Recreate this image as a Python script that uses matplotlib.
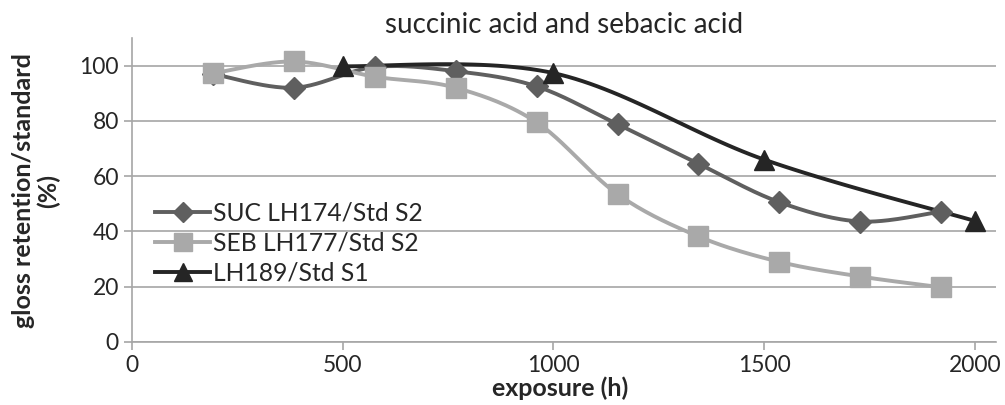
import numpy as np
import matplotlib
matplotlib.use('Agg')
import matplotlib.pyplot as plt

plt.rcParams['font.family'] = ['Lato', 'DejaVu Sans']

# data
hours = [192, 384, 576, 768, 960, 1152, 1344, 1536, 1728, 1920]
suc = [97, 92, 99.5, 98, 92.5, 78.8, 64.5, 50.6, 43.6, 47.2]
seb = [97.2, 101.5, 96, 92, 79.5, 53.5, 38.2, 29, 23.7, 19.8]
hours_lh = [500, 1000, 1500, 2000]
lh189 = [99.8, 97.3, 66, 43.8]

labels = ['SUC LH174/Std S2', 'SEB LH177/Std S2', 'LH189/Std S1']
colors = ['#5f5f5f', '#a9a9a9', '#252525']
markers = ['D', 's', '^']
msizes = [11, 14, 14]


def smooth(x, y, n=30):
    # Excel-style smoothed line (bezier through the points)
    x = np.asarray(x, float)
    y = np.asarray(y, float)
    px = np.concatenate([[x[0]], x, [x[-1]]])
    py = np.concatenate([[y[0]], y, [y[-1]]])
    t = np.linspace(0, 1, n)
    xs, ys = [], []
    for i in range(1, len(px) - 2):
        p0 = np.array([px[i], py[i]])
        p3 = np.array([px[i + 1], py[i + 1]])
        p1 = p0 + (np.array([px[i + 1], py[i + 1]]) - np.array([px[i - 1], py[i - 1]])) / 6
        p2 = p3 - (np.array([px[i + 2], py[i + 2]]) - np.array([px[i], py[i]])) / 6
        b = ((1 - t) ** 3)[:, None] * p0 + (3 * (1 - t) ** 2 * t)[:, None] * p1 \
            + (3 * (1 - t) * t ** 2)[:, None] * p2 + (t ** 3)[:, None] * p3
        xs.append(b[:, 0])
        ys.append(b[:, 1])
    return np.concatenate(xs), np.concatenate(ys)


fig = plt.figure(figsize=(10.05, 4.05), dpi=100)
ax = fig.add_axes([132 / 1005, (405 - 342) / 405, (996 - 132) / 1005, (342 - 38) / 405])

series = [(hours, suc), (hours, seb), (hours_lh, lh189)]
handles = []
for (xv, yv), lab, c, m, ms in zip(series, labels, colors, markers, msizes):
    sx, sy = smooth(xv, yv)
    ax.plot(sx, sy, color=c, lw=2.8, zorder=3)
    ax.plot(xv, yv, ls='none', marker=m, ms=ms, color=c, zorder=4)
    h, = ax.plot([], [], color=c, lw=2.8, marker=m, ms=ms - 1, label=lab)
    handles.append(h)

ax.set_xlim(0, 2050)
ax.set_ylim(0, 110)
ax.set_xticks([0, 500, 1000, 1500, 2000])
ax.set_yticks([0, 20, 40, 60, 80, 100])
ax.grid(axis='y', color='#a6a6a6', lw=1.2)
ax.set_axisbelow(True)
for s in ['top', 'right']:
    ax.spines[s].set_visible(False)
for s in ['left', 'bottom']:
    ax.spines[s].set_color('#a6a6a6')
    ax.spines[s].set_linewidth(1.2)
ax.tick_params(colors='#a6a6a6', labelcolor='#262626', labelsize=16.5, length=6, width=1.2)

ax.set_title('succinic acid and sebacic acid', fontsize=20, color='#262626', pad=2)
fig.text(560 / 1005, 1 - 388 / 405, 'exposure (h)', fontsize=18, fontweight='bold',
         color='#262626', ha='center', va='center')
fig.text(36 / 1005, 1 - 191 / 405, 'gloss retention/standard\n(%)', fontsize=18,
         fontweight='bold', color='#262626', rotation=90, ha='center', va='center',
         multialignment='center', linespacing=1.05)

ax.legend(handles=handles, loc='upper left', bbox_to_anchor=(0.0266, 0.462), frameon=False,
          fontsize=17.7, handlelength=2.24, handletextpad=0.12, labelspacing=0.28,
          labelcolor='#262626', borderaxespad=0, borderpad=0)

fig.savefig('out.png', dpi=100)
